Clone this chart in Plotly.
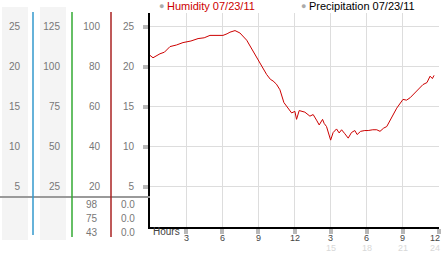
import plotly.graph_objects as go

# ---- data ----
hours = [0.0, 0.25, 0.83, 1.2, 1.66, 2.2, 2.74, 3.4, 3.99, 4.5, 4.98, 5.5, 6.06, 6.4, 6.64, 7.06, 7.47,
         8.03, 8.55, 9.14, 9.69, 10.0, 10.22, 10.5, 10.79, 11.12, 11.48, 11.76, 12.03, 12.17, 12.39,
         12.86, 13.28, 13.55, 13.83, 14.05, 14.33, 14.46, 14.66, 15.0, 15.21, 15.49, 15.71, 15.91,
         16.18, 16.46, 16.73, 17.01, 17.2, 17.49, 17.84, 18.12, 18.5, 18.83, 19.1, 19.4, 19.66, 19.93,
         20.2, 20.49, 21.01, 21.3, 21.6, 22.15, 22.67, 23.0, 23.26, 23.45, 23.59]
humidity = [21.4, 21.1, 21.6, 21.8, 22.5, 22.7, 23.0, 23.2, 23.5, 23.6, 23.9, 23.9, 23.9, 24.1, 24.3, 24.5, 24.2,
            23.3, 21.9, 20.5, 19.0, 18.4, 18.2, 17.8, 17.1, 15.5, 14.8, 14.2, 14.4, 13.4, 14.5,
            14.3, 13.8, 14.0, 13.3, 12.7, 13.4, 12.9, 12.5, 10.8, 11.75, 12.2, 11.7, 12.1,
            11.6, 11.05, 11.75, 12.0, 11.5, 11.9, 12.0, 12.0, 12.1, 12.1, 11.9, 12.3, 12.5, 13.2,
            14.0, 14.8, 15.9, 15.8, 16.1, 16.9, 17.75, 18.0, 18.8, 18.5, 18.9]

x_ticks = [3, 6, 9, 12, 15, 18, 21, 24]
x_ticklabels = ["3", "6", "9", "12", "3", "6", "9", "12"]
x_sublabels = ["", "", "", "", "15", "18", "21", "24"]

col4_ticks = [5, 10, 15, 20, 25]        # humidity scale (main)
col3_ticks = [20, 40, 60, 80, 100]
col2_ticks = [25, 50, 75, 100, 125]
col1_ticks = [5, 10, 15, 20, 25]

table_col3 = ["98", "75", "43"]
table_col4 = ["0.0", "0.0", "0.0"]

legend_items = ["Humidity 07/23/11", "Precipitation 07/23/11"]
legend_colors = ["#cc0000", "#000000"]

# ---- layout helpers ----
W, H = 442, 253
def px(x):
    return x / W
def py(y):
    return (H - y) / H

YMAX = 26.7
FONT = "Liberation Sans, Arial, sans-serif"
TXT = "#777777"

fig = go.Figure()
fig.add_trace(go.Scatter(x=hours, y=humidity, mode="lines",
                         line=dict(color="#cc0000", width=1), showlegend=False,
                         hoverinfo="skip"))
for ax in ["y2", "y3", "y4"]:
    fig.add_trace(go.Scatter(x=[None], y=[None], yaxis=ax, showlegend=False, hoverinfo="skip"))

fig.update_layout(
    width=W, height=H, margin=dict(l=0, r=0, t=0, b=0),
    paper_bgcolor="white", plot_bgcolor="white",
    font=dict(family=FONT, size=10, color=TXT),
    xaxis=dict(domain=[px(150), px(439)], range=[0, 24], tickvals=x_ticks, showticklabels=False,
               showgrid=True, gridcolor="#dddddd", gridwidth=1, zeroline=False,
               showline=True, linecolor="black", linewidth=2,
               ticks="outside", ticklen=5, tickwidth=4, tickcolor="#b8b8b8", fixedrange=True),
    yaxis=dict(domain=[py(226.5), py(13)], range=[0, YMAX], tickvals=col4_ticks,
               showgrid=True, gridcolor="#dddddd", gridwidth=1, zeroline=False,
               showline=True, linecolor="black", linewidth=2,
               ticks="outside", ticklen=5, tickwidth=4, tickcolor="#b8b8b8",
               ticklabelstandoff=7,
               tickfont=dict(size=10, color=TXT), fixedrange=True),
    yaxis2=dict(overlaying="y", anchor="free", position=px(100), range=[0, YMAX * 4],
                tickvals=col3_ticks, showgrid=False, zeroline=False, showline=False,
                ticks="", ticklen=0, ticklabelstandoff=0,
                tickfont=dict(size=10, color=TXT), fixedrange=True),
    yaxis3=dict(overlaying="y", anchor="free", position=px(60), range=[0, YMAX * 5],
                tickvals=col2_ticks, showgrid=False, zeroline=False, showline=False,
                ticks="", ticklen=0, ticklabelstandoff=0,
                tickfont=dict(size=10, color=TXT), fixedrange=True),
    yaxis4=dict(overlaying="y", anchor="free", position=px(20), range=[0, YMAX],
                tickvals=col1_ticks, showgrid=False, zeroline=False, showline=False,
                ticks="", ticklen=0, ticklabelstandoff=0,
                tickfont=dict(size=10, color=TXT), fixedrange=True),
)

shapes = []
# gray column backgrounds
for x0, x1 in [(2, 28), (40, 66)]:
    shapes.append(dict(type="rect", xref="paper", yref="paper", x0=px(x0), x1=px(x1),
                       y0=py(240), y1=py(7), fillcolor="#f4f4f4", line=dict(width=0), layer="below"))
# separator line
shapes.append(dict(type="line", xref="paper", yref="paper", x0=0, x1=px(150), y0=py(197), y1=py(197),
                   line=dict(color="#9a9a9a", width=2)))
# colored vertical lines
for x, c, y1 in [(33, "#3399cc", 235), (72, "#33aa33", 237), (111, "#aa2222", 237)]:
    shapes.append(dict(type="line", xref="paper", yref="paper", x0=px(x), x1=px(x),
                       y0=py(y1), y1=py(12), line=dict(color=c, width=1.5)))
fig.update_layout(shapes=shapes)

ann = []
row_y = [204, 218, 232]
for v3, v4, yy in zip(table_col3, table_col4, row_y):
    ann.append(dict(xref="paper", yref="paper", x=px(100), y=py(yy), text=v3, showarrow=False,
                    xanchor="right", yanchor="middle", font=dict(size=10, color=TXT)))
    ann.append(dict(xref="paper", yref="paper", x=px(137), y=py(yy), text=v4, showarrow=False,
                    xanchor="right", yanchor="middle", font=dict(size=10, color=TXT)))
# x tick labels (two rows)
n = len(x_ticks)
for i, (xv, a, b) in enumerate(zip(x_ticks, x_ticklabels, x_sublabels)):
    last = (i == n - 1)
    common = dict(xref="paper" if last else "x", x=px(441) if last else xv,
                  xanchor="right" if last else "center", showarrow=False, yref="paper",
                  yanchor="middle", borderpad=0)
    ann.append(dict(y=py(237.5), text=a, font=dict(size=9, color="#444444"), **common))
    if b:
        ann.append(dict(y=py(247.5), text=b, font=dict(size=9, color="#d8d8d8"), **common))
ann.append(dict(xref="paper", yref="paper", x=px(151), y=py(231.5), text="Hours", showarrow=False,
                xanchor="left", yanchor="middle", font=dict(size=10, color="#444444")))
for name, col, xx in zip(legend_items, legend_colors, [157, 299]):
    ann.append(dict(xref="paper", yref="paper", x=px(xx), y=py(6), text="●", showarrow=False,
                    xanchor="left", yanchor="middle", font=dict(size=9, color="#aaaaaa")))
    ann.append(dict(xref="paper", yref="paper", x=px(xx + 8), y=py(6), text=name, showarrow=False,
                    xanchor="left", yanchor="middle", font=dict(size=11, color=col)))
fig.update_layout(annotations=ann)

fig.write_html("out.html")
